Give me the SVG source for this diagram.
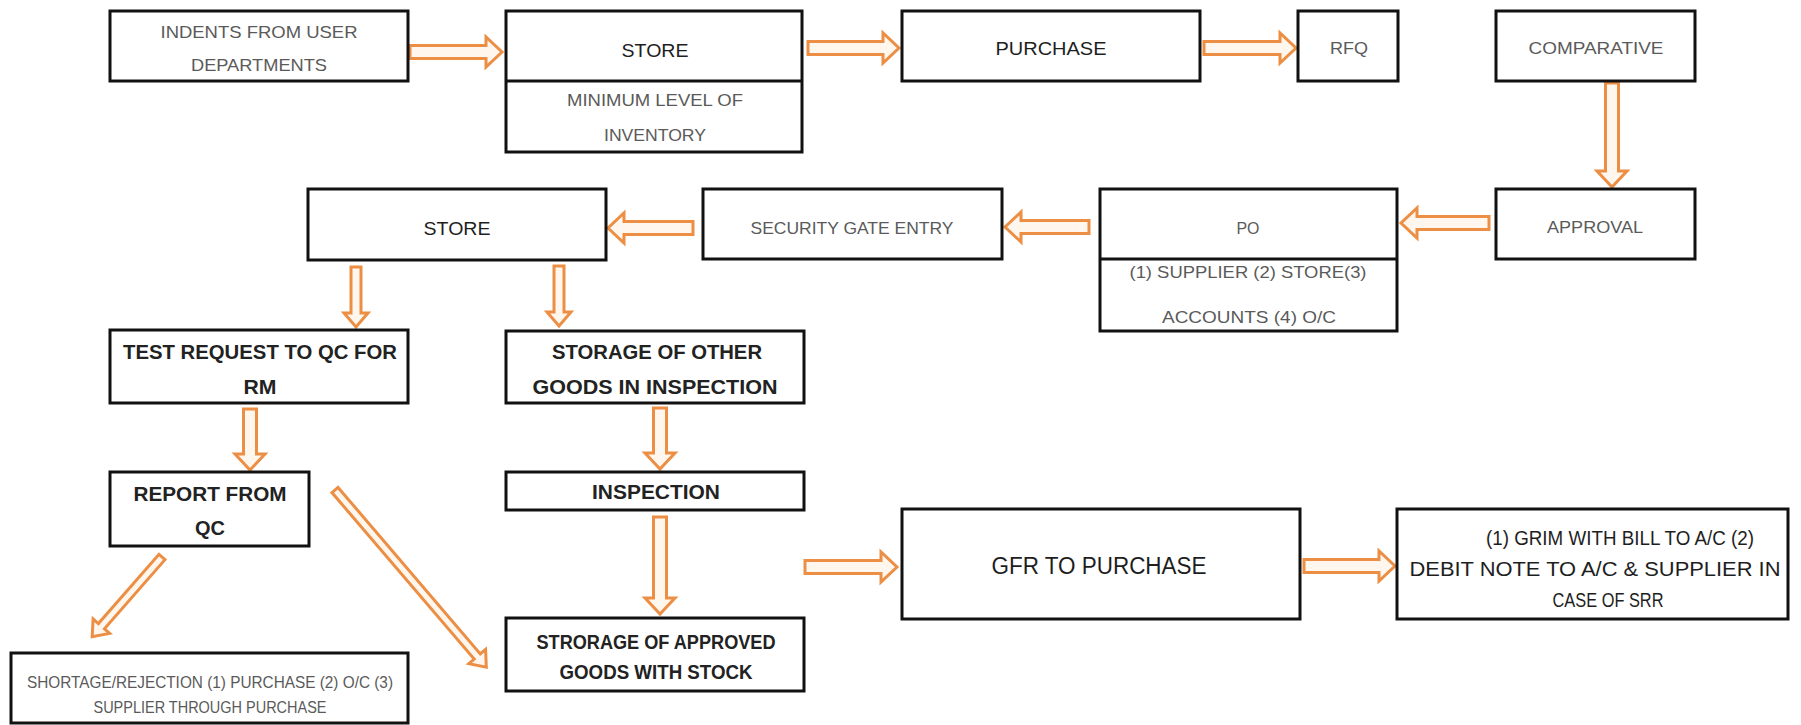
<svg xmlns="http://www.w3.org/2000/svg" width="1801" height="725" viewBox="0 0 1801 725">
<style>
.box{fill:#ffffff;stroke:#111111;stroke-width:3}
.ln{stroke:#111111;stroke-width:3}
.g{font-family:"Liberation Sans",Arial,sans-serif;font-size:17px;fill:#5a5a5a;text-anchor:middle}
.d{font-family:"Liberation Sans",Arial,sans-serif;font-size:19px;fill:#1e1e1e;text-anchor:middle}
.b{font-family:"Liberation Sans",Arial,sans-serif;font-size:20px;font-weight:bold;fill:#222222;text-anchor:middle}
.arr{fill:#fff6ee;stroke:#ec8f45;stroke-width:3;stroke-linejoin:miter}
</style>
<rect width="1801" height="725" fill="#ffffff"/>
<g id="connectors">
<path class="arr" d="M410,45.5 H486 V37 L502,52 L486,67 V58.5 H410 Z"/>
<path class="arr" d="M808,41.5 H883 V33 L899,48 L883,63 V54.5 H808 Z"/>
<path class="arr" d="M1204,41.5 H1280 V33 L1296,48 L1280,63 V54.5 H1204 Z"/>
<path class="arr" d="M1605.5,83 V171 H1597 L1612,187 L1627,171 H1618.5 V83 Z"/>
<path class="arr" d="M1489,216.5 H1417 V208 L1401,223 L1417,238 V229.5 H1489 Z"/>
<path class="arr" d="M1089,220.5 H1021 V212 L1005,227 L1021,242 V233.5 H1089 Z"/>
<path class="arr" d="M693,221.5 H624 V213 L608,228 L624,243 V234.5 H693 Z"/>
<path class="arr" d="M351,267 V313 H344 L356,327 L368,313 H361 V267 Z"/>
<path class="arr" d="M554,266 V312 H547 L559,326 L571,312 H564 V266 Z"/>
<path class="arr" d="M243.5,409 V454 H235 L250,470 L265,454 H256.5 V409 Z"/>
<path class="arr" d="M653.5,408 V453 H645 L660,469 L675,453 H666.5 V408 Z"/>
<path class="arr" d="M653.5,517 V598 H645 L660,614 L675,598 H666.5 V517 Z"/>
<path class="arr" d="M805,560.5 H881 V552 L897,567 L881,582 V573.5 H805 Z"/>
<path class="arr" d="M1304,559.5 H1379 V551 L1395,566 L1379,581 V572.5 H1304 Z"/>
<path class="arr" transform="translate(162,557) rotate(131.2)" d="M0,-4 H92 V-11 L106,0 L92,11 V4 H0 Z"/>
<path class="arr" transform="translate(335,490) rotate(49.5)" d="M0,-4 H219 V-11 L233,0 L219,11 V4 H0 Z"/>
</g>
<g id="indents">
<rect class="box" x="110" y="11" width="298" height="70"/>
<text class="g" x="259" y="38" textLength="197" lengthAdjust="spacingAndGlyphs">INDENTS FROM USER</text>
<text class="g" x="259" y="71" textLength="136" lengthAdjust="spacingAndGlyphs">DEPARTMENTS</text>
</g>
<g id="store1">
<rect class="box" x="506" y="11" width="296" height="141"/>
<line class="ln" x1="506" y1="81" x2="802" y2="81"/>
<text class="d" x="655" y="57" textLength="67" lengthAdjust="spacingAndGlyphs">STORE</text>
<text class="g" x="655" y="106" textLength="176" lengthAdjust="spacingAndGlyphs">MINIMUM LEVEL OF</text>
<text class="g" x="655" y="141" textLength="102" lengthAdjust="spacingAndGlyphs">INVENTORY</text>
</g>
<g id="purchase">
<rect class="box" x="902" y="11" width="298" height="70"/>
<text class="d" x="1051" y="55" textLength="111" lengthAdjust="spacingAndGlyphs">PURCHASE</text>
</g>
<g id="rfq">
<rect class="box" x="1298" y="11" width="100" height="70"/>
<text class="g" x="1349" y="54" textLength="38" lengthAdjust="spacingAndGlyphs">RFQ</text>
</g>
<g id="comparative">
<rect class="box" x="1496" y="11" width="199" height="70"/>
<text class="g" x="1596" y="54" textLength="135" lengthAdjust="spacingAndGlyphs">COMPARATIVE</text>
</g>
<g id="approval">
<rect class="box" x="1496" y="189" width="199" height="70"/>
<text class="g" x="1595" y="233" textLength="96" lengthAdjust="spacingAndGlyphs">APPROVAL</text>
</g>
<g id="po">
<rect class="box" x="1100" y="189" width="297" height="142"/>
<line class="ln" x1="1100" y1="259" x2="1397" y2="259"/>
<text class="g" x="1248" y="234" textLength="23" lengthAdjust="spacingAndGlyphs">PO</text>
<text class="g" x="1248" y="278" textLength="237" lengthAdjust="spacingAndGlyphs">(1) SUPPLIER (2) STORE(3)</text>
<text class="g" x="1249" y="323" textLength="174" lengthAdjust="spacingAndGlyphs">ACCOUNTS (4) O/C</text>
</g>
<g id="security">
<rect class="box" x="703" y="189" width="299" height="70"/>
<text class="g" x="852" y="234" textLength="203" lengthAdjust="spacingAndGlyphs">SECURITY GATE ENTRY</text>
</g>
<g id="store2">
<rect class="box" x="308" y="189" width="298" height="71"/>
<text class="d" x="457" y="235" textLength="67" lengthAdjust="spacingAndGlyphs">STORE</text>
</g>
<g id="test-request">
<rect class="box" x="110" y="330" width="298" height="73"/>
<text class="b" x="260" y="359" textLength="274" lengthAdjust="spacingAndGlyphs">TEST REQUEST TO QC FOR</text>
<text class="b" x="260" y="394" textLength="33" lengthAdjust="spacingAndGlyphs">RM</text>
</g>
<g id="storage-other">
<rect class="box" x="506" y="331" width="298" height="72"/>
<text class="b" x="657" y="359" textLength="210" lengthAdjust="spacingAndGlyphs">STORAGE OF OTHER</text>
<text class="b" x="655" y="394" textLength="245" lengthAdjust="spacingAndGlyphs">GOODS IN INSPECTION</text>
</g>
<g id="report">
<rect class="box" x="110" y="472" width="199" height="74"/>
<text class="b" x="210" y="501" textLength="153" lengthAdjust="spacingAndGlyphs">REPORT FROM</text>
<text class="b" x="210" y="535" textLength="30" lengthAdjust="spacingAndGlyphs">QC</text>
</g>
<g id="inspection">
<rect class="box" x="506" y="472" width="298" height="38"/>
<text class="b" x="656" y="499" textLength="128" lengthAdjust="spacingAndGlyphs">INSPECTION</text>
</g>
<g id="strorage">
<rect class="box" x="506" y="618" width="298" height="73"/>
<text class="b" x="656" y="649" textLength="239" lengthAdjust="spacingAndGlyphs">STRORAGE OF APPROVED</text>
<text class="b" x="656" y="679" textLength="193" lengthAdjust="spacingAndGlyphs">GOODS WITH STOCK</text>
</g>
<g id="shortage">
<rect class="box" x="11" y="653" width="397" height="70"/>
<text class="g" x="210" y="688" textLength="366" lengthAdjust="spacingAndGlyphs">SHORTAGE/REJECTION (1) PURCHASE (2) O/C (3)</text>
<text class="g" x="210" y="713" textLength="233" lengthAdjust="spacingAndGlyphs">SUPPLIER THROUGH PURCHASE</text>
</g>
<g id="gfr">
<rect class="box" x="902" y="509" width="398" height="110"/>
<text class="d" x="1099" y="574" style="font-size:23px" textLength="215" lengthAdjust="spacingAndGlyphs">GFR TO PURCHASE</text>
</g>
<g id="grim">
<rect class="box" x="1397" y="509" width="391" height="110"/>
<text class="d" x="1620" y="545" style="font-size:20px" textLength="268" lengthAdjust="spacingAndGlyphs">(1) GRIM WITH BILL TO A/C (2)</text>
<text class="d" x="1595" y="576" style="font-size:20px" textLength="371" lengthAdjust="spacingAndGlyphs">DEBIT NOTE TO A/C &amp; SUPPLIER IN</text>
<text class="d" x="1608" y="607" style="font-size:20px" textLength="111" lengthAdjust="spacingAndGlyphs">CASE OF SRR</text>
</g>
</svg>
